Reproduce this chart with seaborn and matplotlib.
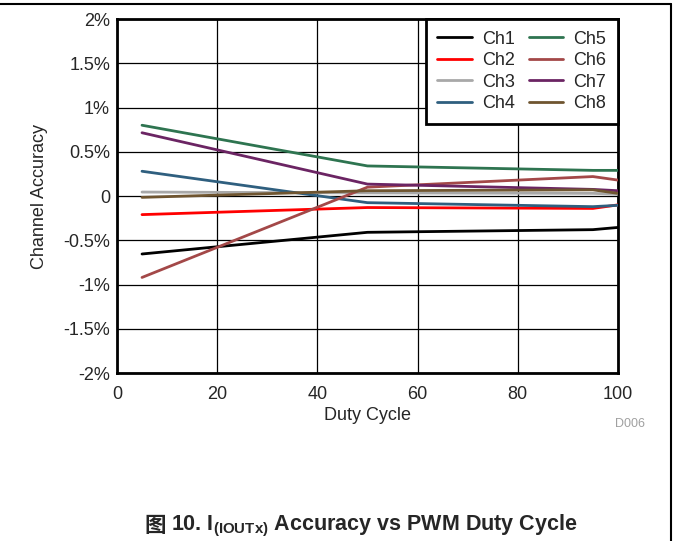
import matplotlib
matplotlib.use("Agg")
import matplotlib.pyplot as plt
import matplotlib.lines as mlines
import seaborn as sns
import pandas as pd

duty = [5, 50, 95, 100]
ch1 = [-0.655, -0.41, -0.38, -0.355]
ch2 = [-0.21, -0.13, -0.14, -0.10]
ch3 = [0.045, 0.035, 0.03, 0.02]
ch4 = [0.28, -0.075, -0.12, -0.105]
ch5 = [0.80, 0.34, 0.29, 0.29]
ch6 = [-0.92, 0.10, 0.22, 0.18]
ch7 = [0.715, 0.135, 0.075, 0.06]
ch8 = [-0.015, 0.06, 0.07, 0.03]
channels = ["Ch1", "Ch2", "Ch3", "Ch4", "Ch5", "Ch6", "Ch7", "Ch8"]
colors = ["#000000", "#FF0000", "#A8A8A8", "#2F5F7F", "#2E7450", "#A34848", "#6B2463", "#6F5530"]
yticks = [-2, -1.5, -1, -0.5, 0, 0.5, 1, 1.5, 2]
ytick_labels = ["-2%", "-1.5%", "-1%", "-0.5%", "0", "0.5%", "1%", "1.5%", "2%"]
xticks = [0, 20, 40, 60, 80, 100]

series = [ch1, ch2, ch3, ch4, ch5, ch6, ch7, ch8]
rows = []
for name, vals in zip(channels, series):
    for x, v in zip(duty, vals):
        rows.append({"Duty": x, "Acc": v, "Channel": name})
df = pd.DataFrame(rows)

sns.set_style("white")
plt.rcParams["font.family"] = ["Liberation Sans", "Noto Sans CJK SC", "DejaVu Sans"]
plt.rcParams["mathtext.fontset"] = "custom"
plt.rcParams["mathtext.bf"] = "Liberation Sans:bold"
plt.rcParams["mathtext.rm"] = "Liberation Sans"

fig = plt.figure(figsize=(6.73, 5.41), dpi=100)
ax = fig.add_axes([0.1738, 0.3105, 0.7444, 0.6543])

ax.set_xlim(0, 100)
ax.set_ylim(-2, 2)
ax.set_xticks(xticks)
ax.set_yticks(yticks)
ax.set_yticklabels(ytick_labels)
ax.grid(True, color="black", linewidth=0.9)
ax.set_axisbelow(True)

sns.lineplot(data=df, x="Duty", y="Acc", hue="Channel", palette=colors,
             hue_order=channels, linewidth=2, ax=ax, legend=False, zorder=3)

for s in ax.spines.values():
    s.set_linewidth(2)
    s.set_color("black")
ax.tick_params(axis="y", length=0, labelsize=13, pad=5)
ax.tick_params(axis="x", length=0, labelsize=13, pad=9)
ax.set_xlabel("Duty Cycle", fontsize=13, labelpad=3)
ax.set_ylabel("Channel Accuracy", fontsize=13, labelpad=11)

handles = [mlines.Line2D([], [], color=c, linewidth=2) for c in colors]
leg = ax.legend(handles, channels, ncol=2, loc="upper right", fontsize=13,
                frameon=True, fancybox=False, framealpha=1, edgecolor="black",
                borderaxespad=0, handlelength=1.9, columnspacing=0.8,
                handletextpad=0.55, labelspacing=0.25, borderpad=0.65)
leg.get_frame().set_linewidth(2)
leg.set_zorder(5)

fig.text(630 / 673, 1 - 424 / 541, "D006", fontsize=9, color="#A0A0A0",
         ha="center", va="center")
fig.text(166 / 673, 1 - 526 / 541, "图", fontsize=15.5, fontweight="bold",
         family=["Noto Sans CJK SC"], ha="right", va="center")
fig.text(171 / 673, 1 - 526 / 541,
         r"10. $\mathbf{I_{(IOUTx)}}$ Accuracy vs PWM Duty Cycle",
         fontsize=15.5, fontweight="bold", ha="left", va="center")

fig.add_artist(mlines.Line2D([0, 670.5 / 673], [1 - 3.5 / 541, 1 - 3.5 / 541],
                             transform=fig.transFigure, color="black", linewidth=1.5))
fig.add_artist(mlines.Line2D([670.5 / 673, 670.5 / 673], [0, 1 - 3.5 / 541],
                             transform=fig.transFigure, color="black", linewidth=1.5))

fig.savefig("out.png", dpi=100)
